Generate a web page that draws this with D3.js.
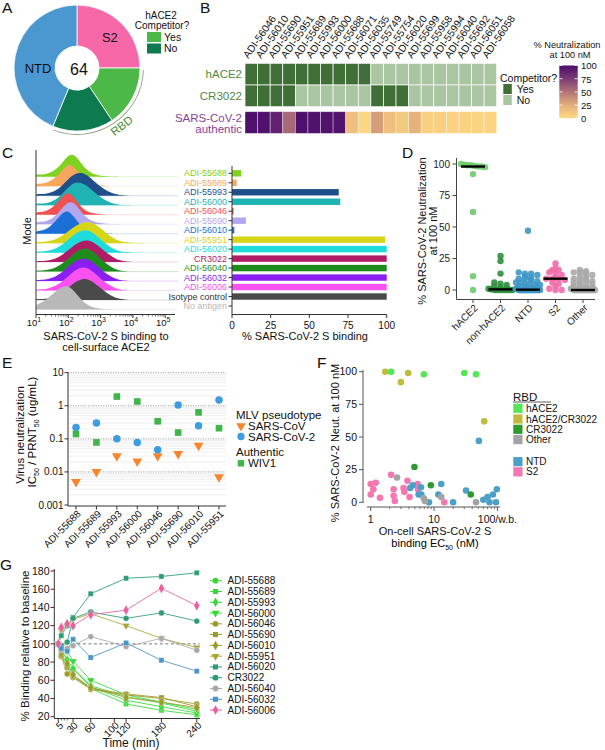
<!DOCTYPE html>
<html><head><meta charset="utf-8">
<script src="https://cdn.jsdelivr.net/npm/d3@7"></script>
<style>
body{margin:0;background:#fff}
svg{display:block}
text{font-family:"Liberation Sans",Arial,Helvetica,sans-serif}
</style></head>
<body><svg id="fig" width="605" height="750"></svg>
<script>
// ================= DATA =================
// Panel A
const pieCategories = ["S2", "RBD hACE2 competitor: Yes", "RBD hACE2 competitor: No", "NTD"];
const pieCounts = [16, 10, 10, 28];
const pieTotal = 64;

// Panel B
const heatAntibodies = ["ADI-56046","ADI-56010","ADI-55690","ADI-55951","ADI-55689","ADI-55993","ADI-56000","ADI-55688","ADI-56071","ADI-56035","ADI-55749","ADI-55754","ADI-56020","ADI-55699","ADI-55958","ADI-55994","ADI-56040","ADI-55692","ADI-56051","ADI-56058"];
const heatRows = ["hACE2", "CR3022"];
const hace2Competitor  = [1,1,1,1,1,1,1,1,1,1,0,0,0,0,0,0,0,0,0,0];
const cr3022Competitor = [1,1,1,1,0,0,0,0,0,0,1,1,1,0,0,0,0,0,0,0];
const authenticNeut = [98,97,88,55,98,97,96,96,15,2,32,15,10,22,5,5,4,4,3,3];
const neutLegendTicks = [0,25,50,75,100];

// Panel C
const cLabels = ["ADI-55688","ADI-55689","ADI-55993","ADI-56000","ADI-56046","ADI-55690","ADI-56010","ADI-55951","ADI-56020","CR3022","ADI-56040","ADI-56032","ADI-56006","Isotype control","No antigen"];
const cBinding = [6, 3, 69, 70, 1, 9, 1.5, 99, 100, 100, 100, 100, 100, 100, 0];
const histLogBins = [1.0,1.2,1.4,1.6,1.8,2.0,2.2,2.4,2.6,2.8,3.0,3.2,3.4,3.6,3.8,4.0,4.2,4.4];
const histDensity = [
  [0.12,0.08,0.14,0.28,0.55,0.92,0.95,0.55,0.25,0.10,0.04,0.02,0.01,0,0,0,0,0],
  [0.12,0.10,0.18,0.35,0.65,0.95,0.80,0.45,0.20,0.08,0.03,0.01,0,0,0,0,0,0],
  [0.08,0.06,0.10,0.20,0.40,0.70,0.92,0.98,0.85,0.60,0.38,0.20,0.08,0.03,0.01,0,0,0],
  [0.08,0.06,0.10,0.22,0.45,0.75,0.97,0.95,0.80,0.55,0.33,0.16,0.06,0.02,0.01,0,0,0],
  [0.12,0.10,0.20,0.40,0.75,0.98,0.70,0.30,0.12,0.05,0.02,0,0,0,0,0,0,0],
  [0.10,0.08,0.16,0.33,0.65,0.95,0.90,0.50,0.22,0.10,0.04,0.02,0,0,0,0,0,0],
  [0.12,0.12,0.25,0.50,0.85,1.00,0.65,0.30,0.12,0.05,0.02,0,0,0,0,0,0,0],
  [0.05,0.04,0.08,0.15,0.30,0.50,0.70,0.85,0.90,0.82,0.62,0.40,0.20,0.08,0.03,0.01,0,0],
  [0.05,0.04,0.08,0.16,0.32,0.55,0.78,0.93,0.95,0.80,0.55,0.32,0.15,0.05,0.02,0,0,0],
  [0.05,0.04,0.07,0.14,0.28,0.50,0.72,0.88,0.92,0.82,0.60,0.38,0.18,0.06,0.02,0,0,0],
  [0.05,0.04,0.08,0.16,0.32,0.55,0.78,0.95,0.98,0.80,0.55,0.30,0.13,0.04,0.01,0,0,0],
  [0.05,0.05,0.09,0.18,0.36,0.60,0.82,0.95,0.92,0.75,0.50,0.28,0.12,0.04,0.01,0,0,0],
  [0.05,0.05,0.09,0.18,0.36,0.60,0.84,0.98,0.95,0.75,0.50,0.28,0.12,0.04,0.01,0,0,0],
  [0.05,0.04,0.07,0.14,0.28,0.50,0.75,0.88,0.88,0.72,0.50,0.28,0.12,0.04,0.01,0,0,0],
  [0.20,0.30,0.50,0.75,0.95,1.00,0.75,0.40,0.18,0.07,0.02,0.01,0,0,0,0,0,0]
];
const cLogTicks = [1,2,3,4,5];
const cBarTicks = [0,25,50,75,100];

// Panel D
const dCategories = ["hACE2","non-hACE2","NTD","S2","Other"];
const dValues = [
  [100,99.5,99,99,98.5,98,98,97.5,92,62,11,0],
  [27,23,13,6,5,4,3,2,1.5,1,0.5,0.5,0,0,0,0,0,0,0,0,0],
  [47,14,13,13,12,11,10,9,9,8,7,6,6,5,5,4,4,3,3,2,2,1,1,0.5,0,0,0,0,0,0,0,0,0,0,0,0,0,0,0,0,0,0,0,0,0,0,0,0],
  [21,17,16,16,14,13,12,10,9,9,9,8,6,5,3,1,0,0],
  [16,15,14,14,13,12,11,10,9,8,8,7,6,5,5,4,3,3,2,2,1,1,0.5,0,0,0,0,0,0,0,0,0,0,0,0,0,0,0,0,0,0,0,0,0,0,0,0]
];
const dTicks = [0,25,50,75,100];

// Panel E
const eAntibodies = ["ADI-55688","ADI-55689","ADI-55993","ADI-56000","ADI-56046","ADI-55690","ADI-56010","ADI-55951"];
const eSarsCov  = [0.005, 0.01, 0.03, 0.021, 0.03, 0.035, 0.063, 0.007];
const eSarsCov2 = [0.22, 0.30, 0.10, 0.077, 0.047, 1.05, 0.25, 1.5];
const eWiv1     = [0.14, 0.078, 1.9, 1.35, 0.34, 0.155, 0.63, 0.21];
const eTicks = [0.001, 0.01, 0.1, 1, 10];
const eTickLabels = ["0.001","0.01","0.1","1","10"];

// Panel F  ([on-cell EC50 nM, % neutralization])
const fGroups = ["hACE2","hACE2/CR3022","CR3022","Other","NTD","S2"];
const fHace2 = [[2.1,100],[6.9,98],[30,99],[46,98]];
const fHace2Cr3022 = [[1.7,100],[3.0,92],[3.9,99],[62,62]];
const fCr3022 = [[4.9,27],[8.9,13],[38,6]];
const fOther = [[2.6,19],[6.9,3],[13,4],[46,0],[7.2,1]];
const fNtd = [[51,47],[4.6,13],[4.2,11],[6.2,11.5],[13,14],[5.7,6],[6.3,6],[8.3,0],[11.7,6],[20,0],[32,9],[98,10],[60,2],[75,0],[85,6],[95,0],[70,4]];
const fS2 = [[1.0,14],[1.2,15],[1.1,10],[2.1,21],[3.8,16.5],[5.5,14],[2.3,10],[3.3,11],[5.6,10],[1.0,6],[1.4,3.5],[2.3,5],[2.4,1],[4.1,4],[3.4,8],[14.5,0]];
const fYTicks = [0,25,50,75,100];
const fXTicks = [1,10,100];
const fXTickLabels = ["1","10","100/w.b."];

// Panel G
const gTimes = [5,10,20,30,60,120,180,240];
const gNames = ["ADI-55688","ADI-55689","ADI-55993","ADI-56000","ADI-56046","ADI-55690","ADI-56010","ADI-55951","ADI-56020","CR3022","ADI-56040","ADI-56032","ADI-56006"];
const gValues = [
  [100,95,82,73,54,42,35,26],
  [100,88,74,64,51,34,27,22],
  [100,93,82,72,53,38,31,24],
  [100,97,92,81,60,44,36,28],
  [100,86,67,63,50,44,40,34],
  [100,87,74,65,51,45,41,31],
  [100,90,78,66,52,41,36,30],
  [100,115,120,127,133,120,106,96],
  [100,109,120,129,155,172,174,178],
  [100,98,102,128,135,128,134,125],
  [100,93,95,98,108,97,106,93],
  [100,95,92,105,85,101,82,70],
  [100,118,122,120,132,137,161,142]
];
const gXTicks = [5,30,60,100,120,180,240];
const gYTicks = [20,40,60,80,100,120,140,160,180];

// ================= STYLES =================
const pieColors = ["#f768a8","#4cb848","#0d7a50","#4b97d0"];
const compYes = "#3f6e37", compNo = "#a9c5a1";
const cColors = ["#7fd320","#f7a65e","#1f4f8a","#1fb3b3","#f05252","#b0a8f0","#1c6fd6","#d6d51a","#1fdcdc","#b01d66","#1d8c1d","#8b1ef0","#fa52f2","#4a4a4a","#b8b8b8"];
const cTextColors = cColors.map((c,i)=> i===13 ? "#333" : c);
const dColors = ["#6ccb6c","#2f8f3f","#3e97c7","#f26aa8","#a8a8a8"];
const fColors = ["#55e655","#c0bb3c","#2e9b30","#a3a3a3","#4ba0c8","#f577b0"];
const gColors = ["#36d936","#36d936","#36d936","#36d936","#9d9a2a","#9d9a2a","#9d9a2a","#aaa33a","#2d9b74","#2d9b74","#a8a8a8","#4b94c9","#e8609e"];
const gShapes = ["circle","square","diamond","triangle","circle","square","diamond","triangle","square","circle","circle","square","diamond"];
const AX = "#333";

// ================= HELPERS =================
const svg = d3.select("#fig");
svg.append("rect").attr("width",605).attr("height",750).attr("fill","#fff");
function T(g,x,y,s,o={}){
  const t=g.append("text").attr("x",x).attr("y",y).text(s)
    .attr("font-size",o.size||10).attr("fill",o.fill||"#111")
    .attr("text-anchor",o.anchor||"start")
    .attr("dy",o.dy!=null?o.dy:"0.35em");
  if(o.rotate!=null) t.attr("transform",`rotate(${o.rotate},${x},${y})`);
  return t;
}
function L(g,x1,y1,x2,y2,c=AX,w=1,dash=null){
  const l=g.append("line").attr("x1",x1).attr("y1",y1).attr("x2",x2).attr("y2",y2).attr("stroke",c).attr("stroke-width",w);
  if(dash) l.attr("stroke-dasharray",dash);
  return l;
}
function sym(shape,size){
  const m={circle:d3.symbolCircle,square:d3.symbolSquare,diamond:d3.symbolDiamond,triangle:d3.symbolTriangle};
  return d3.symbol().type(m[shape]).size(size)();
}
function panelLetter(x,y,s){ T(svg,x,y,s,{size:15.5}); }

// ================= PANEL A =================
(function(){
  const g=svg.append("g");
  panelLetter(2,8,"A");
  const cx=77, cy=68;
  const pie=d3.pie().sort(null).value(d=>d)(pieCounts);
  const arc=d3.arc().innerRadius(22).outerRadius(63);
  const pg=g.append("g").attr("transform",`translate(${cx},${cy})`);
  pg.selectAll("path").data(pie).join("path").attr("d",arc)
    .attr("fill",(d,i)=>pieColors[i]).attr("stroke","#fff").attr("stroke-width",0.8);
  const rbdArc=d3.arc().innerRadius(66).outerRadius(66.9).startAngle(pie[1].startAngle+0.03).endAngle(pie[2].endAngle-0.02);
  pg.append("path").attr("d",rbdArc()).attr("fill","#8aa77c");
  const s2c=d3.arc().innerRadius(30).outerRadius(63).centroid(pie[0]);
  T(pg,s2c[0],s2c[1]+2,"S2",{size:13,anchor:"middle"});
  T(pg,-39,0,"NTD",{size:13,anchor:"middle"});
  T(pg,2,1,String(pieTotal),{size:16,anchor:"middle"});
  const ra=(pie[1].startAngle+pie[2].endAngle)/2 - 0.07;
  const rx=73*Math.sin(ra), ry=-73*Math.cos(ra);
  T(pg,rx,ry,"RBD",{size:11.5,anchor:"middle",fill:"#4b8a3c",rotate:(ra*180/Math.PI)-180});
  T(g,161,15,"hACE2",{size:10,anchor:"middle"});
  T(g,162,25,"Competitor?",{size:10,anchor:"middle"});
  g.append("rect").attr("x",147).attr("y",32).attr("width",14).attr("height",10).attr("fill",pieColors[1]);
  g.append("rect").attr("x",147).attr("y",43.5).attr("width",14).attr("height",10).attr("fill",pieColors[2]);
  T(g,164,37,"Yes",{size:10.5});
  T(g,164,48.5,"No",{size:10.5});
})();

// ================= PANEL B =================
(function(){
  const g=svg.append("g");
  panelLetter(200,8,"B");
  const x=d3.scaleBand().domain(heatAntibodies).range([245,496.7]);
  const y=d3.scaleBand().domain(heatRows).range([63.3,106.7]);
  const comp=[hace2Competitor,cr3022Competitor];
  heatRows.forEach((r,ri)=>{
    g.selectAll(null).data(heatAntibodies).join("rect")
      .attr("x",d=>x(d)).attr("y",y(r)).attr("width",x.bandwidth()).attr("height",y.bandwidth())
      .attr("fill",(d,i)=>comp[ri][i]?compYes:compNo).attr("stroke","#fff").attr("stroke-width",0.7);
  });
  const col=d3.scaleLinear().domain([0,25,50,75,100]).range(["#fed983","#e3ae7a","#b27477","#7b3a76","#4a0c6b"]);
  const ay=111.7, ah=21.7;
  g.selectAll(null).data(authenticNeut).join("rect")
    .attr("x",(d,i)=>x(heatAntibodies[i])).attr("y",ay).attr("width",x.bandwidth()).attr("height",ah)
    .attr("fill",d=>col(d)).attr("stroke","#fff").attr("stroke-opacity",0.5).attr("stroke-width",0.7);
  heatAntibodies.forEach(a=>{
    T(g,x(a)+x.bandwidth()/2-3,59,a,{size:10.3,rotate:-55,dy:0});
  });
  T(g,242,y("hACE2")+y.bandwidth()/2,"hACE2",{size:11.5,anchor:"end",fill:"#4f8b43"});
  T(g,242,y("CR3022")+y.bandwidth()/2,"CR3022",{size:11.5,anchor:"end",fill:"#4f8b43"});
  T(g,242,117.5,"SARS-CoV-2",{size:11.5,anchor:"end",fill:"#8b3f98"});
  T(g,242,128.5,"authentic",{size:11.5,anchor:"end",fill:"#8b3f98"});
  T(g,500,78.5,"Competitor?",{size:10.5});
  g.append("rect").attr("x",503.3).attr("y",84).attr("width",8.5).attr("height",10).attr("fill",compYes);
  g.append("rect").attr("x",503.3).attr("y",95).attr("width",8.5).attr("height",10).attr("fill",compNo);
  T(g,516.7,89,"Yes",{size:10.5});
  T(g,516.7,100,"No",{size:10.5});
  const defs=svg.append("defs");
  const lg=defs.append("linearGradient").attr("id","neutGrad").attr("x1",0).attr("y1",1).attr("x2",0).attr("y2",0);
  [0,25,50,75,100].forEach(v=>lg.append("stop").attr("offset",(v/100)).attr("stop-color",col(v)));
  const ly=d3.scaleLinear().domain([0,100]).range([118.3,65.5]);
  g.append("rect").attr("x",559.3).attr("y",ly(100)).attr("width",18.4).attr("height",ly(0)-ly(100)).attr("fill","url(#neutGrad)");
  neutLegendTicks.forEach(v=>{
    L(g,559.3,ly(v),562.5,ly(v),"#fff",0.8);
    L(g,574.5,ly(v),577.7,ly(v),"#fff",0.8);
    T(g,581,ly(v)+0.5,String(v),{size:9.5});
  });
  T(g,567,44.5,"% Neutralization",{size:9.2,anchor:"middle"});
  T(g,570,54.5,"at 100 nM",{size:9.2,anchor:"middle"});
})();

// ================= PANEL C =================
(function(){
  const g=svg.append("g");
  panelLetter(2,153,"C");
  const y=d3.scalePoint().domain(cLabels).range([173.3,306]);
  const x=d3.scaleLog().domain([10,Math.pow(10,5.3)]).range([36,36+4.3*32.3]);
  const H=24;
  cLabels.forEach((lab,i)=>{
    const base=y(lab)+3.5;
    const pts=histLogBins.map((b,j)=>[x(Math.pow(10,b)),base-histDensity[i][j]*H]);
    pts.unshift([x(10),base]);
    pts.push([x(Math.pow(10,4.4)),base]);
    L(g,36,base,178,base,cColors[i],0.7).attr("stroke-opacity",0.3);
    const area=d3.area().x(d=>d[0]).y0(base).y1(d=>d[1]).curve(d3.curveBasis);
    g.append("path").attr("d",area(pts)).attr("fill",cColors[i]);
  });
  const axY=314.5;
  L(g,36,150,36,axY);
  L(g,36,axY,175,axY);
  cLogTicks.forEach(p=>{
    const xx=x(Math.pow(10,p));
    L(g,xx,axY,xx,axY+3.5);
    const t=g.append("text").attr("x",xx-2).attr("y",326).attr("text-anchor","middle").attr("font-size",9.5).attr("fill","#111");
    t.append("tspan").text("10");
    t.append("tspan").attr("dy",-4).attr("font-size",7).text(String(p));
  });
  for(let p=1;p<5;p++) for(let m=2;m<10;m++){ const xx=x(m*Math.pow(10,p)); L(g,xx,axY,xx,axY+2,AX,0.7); }
  T(g,106,335.8,"SARS-CoV-2 S binding to",{size:11,anchor:"middle"});
  T(g,106,347,"cell-surface ACE2",{size:11,anchor:"middle"});
  T(g,27,231,"Mode",{size:11,anchor:"middle",rotate:-90});
  const xb=d3.scaleLinear().domain([0,100]).range([232,386.7]);
  g.selectAll(null).data(cBinding).join("rect")
    .attr("x",xb(0)).attr("y",(d,i)=>y(cLabels[i])-3.2).attr("width",d=>xb(d)-xb(0)).attr("height",6.4)
    .attr("fill",(d,i)=>cColors[i]);
  L(g,232,166,232,axY);
  L(g,232,axY,386.7,axY);
  cLabels.forEach((lab,i)=>{
    L(g,228.5,y(lab),232,y(lab));
    T(g,227,y(lab),lab,{size:9,anchor:"end",fill:cTextColors[i]});
  });
  cBarTicks.forEach(v=>{ L(g,xb(v),axY,xb(v),axY+3.5); T(g,xb(v),325,String(v),{size:10,anchor:"middle"}); });
  T(g,305,335.8,"% SARS-CoV-2 S binding",{size:11,anchor:"middle"});
})();

// ================= PANEL D =================
(function(){
  const g=svg.append("g");
  panelLetter(402,153,"D");
  const y=d3.scaleLinear().domain([0,100]).range([290,164]);
  const x=d3.scalePoint().domain(dCategories).range([473,583]);
  L(g,456.5,158,456.5,299.5,"#444");
  L(g,456.5,299.5,595,299.5,"#444");
  dTicks.forEach(v=>{ L(g,452.5,y(v),456.5,y(v),"#444"); T(g,450,y(v),String(v),{size:10,anchor:"end",fill:"#222"}); });
  dCategories.forEach(c=>{
    L(g,x(c),299.5,x(c),303,"#444");
    T(g,x(c)+3,306,c,{size:10,anchor:"end",rotate:-45,fill:"#222"});
  });
  T(g,422,231,"% SARS-CoV-2 Neutralization",{size:11,anchor:"middle",rotate:-90});
  T(g,433,231,"at 100 nM",{size:11,anchor:"middle",rotate:-90});
  function swarm(vals,bin,maxHalf,step){
    const groups=d3.group(vals.map((v,i)=>({v,i})),d=>Math.round(d.v/bin));
    const out=[];
    for(const [k,arr] of groups){
      const n=arr.length;
      const sp=n>1?Math.min(step,2*maxHalf/(n-1)):0;
      arr.forEach((d,j)=>out.push({v:d.v,dx:(j-(n-1)/2)*sp}));
    }
    return out;
  }
  dCategories.forEach((c,ci)=>{
    const pts=swarm(dValues[ci],2.6,12,6.2);
    g.selectAll(null).data(pts).join("circle")
      .attr("cx",d=>x(c)+d.dx).attr("cy",d=>y(d.v)).attr("r",3.2)
      .attr("fill",dColors[ci]).attr("fill-opacity",0.9);
    const med=d3.median(dValues[ci]);
    L(g,x(c)-12,y(med),x(c)+12,y(med),"#000",2.4);
  });
})();

// ================= PANEL E =================
(function(){
  const g=svg.append("g");
  panelLetter(2,363,"E");
  const y=d3.scaleLog().domain([0.001,10]).range([505,372.7]);
  const x=d3.scalePoint().domain(eAntibodies).range([76,219]);
  [0.001,0.01,0.1,1].forEach(d=>{ for(let m=2;m<10;m++){ L(g,68,y(d*m),226,y(d*m),"#e2e2e2",0.6); } });
  [0.01,0.1,1,10].forEach(d=> L(g,68,y(d),226,y(d),"#9a9a9a",0.9,"1.2,1.3"));
  L(g,68,372,68,506);
  L(g,68,506,226,506);
  eTicks.forEach((v,i)=>{ L(g,64.5,y(v),68,y(v)); T(g,63.5,y(v),eTickLabels[i],{size:10,anchor:"end"}); });
  eAntibodies.forEach(a=>{
    L(g,x(a),506,x(a),509.5);
    T(g,x(a)+3,512,a,{size:10,anchor:"end",rotate:-45});
  });
  const series=[[eSarsCov,"triangle","#f7852e",42],[eSarsCov2,"circle","#3d9de0",44],[eWiv1,"square","#3fb54a",44]];
  series.forEach(([vals,shape,c,s])=>{
    g.selectAll(null).data(vals).join("path")
      .attr("d",sym(shape,s))
      .attr("transform",(d,i)=>`translate(${x(eAntibodies[i])},${y(d)})`+(shape==="triangle"?" rotate(180)":""))
      .attr("fill",c);
  });
  T(g,20,435,"Virus neutralization",{size:11.5,anchor:"middle",rotate:-90});
  const t=g.append("text").attr("x",32).attr("y",432).attr("text-anchor","middle").attr("font-size",11.5).attr("dy","0.35em")
    .attr("transform","rotate(-90,32,432)");
  t.append("tspan").text("IC");
  t.append("tspan").attr("font-size",7).attr("dy",2.5).text("50");
  t.append("tspan").attr("dy",-2.5).text(" / PRNT");
  t.append("tspan").attr("font-size",7).attr("dy",2.5).text("50");
  t.append("tspan").attr("dy",-2.5).text(" (ug/mL)");
  T(g,236,415,"MLV pseudotype",{size:11.5});
  g.append("path").attr("d",sym("triangle",40)).attr("transform","translate(241,426) rotate(180)").attr("fill","#f7852e");
  T(g,248,426,"SARS-CoV",{size:11.5});
  g.append("path").attr("d",sym("circle",42)).attr("transform","translate(241,436.5)").attr("fill","#3d9de0");
  T(g,248,436.5,"SARS-CoV-2",{size:11.5});
  T(g,236,451.7,"Authentic",{size:11.5});
  g.append("path").attr("d",sym("square",42)).attr("transform","translate(241,463.3)").attr("fill","#3fb54a");
  T(g,248,463.3,"WIV1",{size:11.5});
})();

// ================= PANEL F =================
(function(){
  const g=svg.append("g");
  panelLetter(317,363,"F");
  const y=d3.scaleLinear().domain([0,100]).range([502.3,371.7]);
  const x=d3.scaleLog().domain([0.88,110]).range([367.2,500]);
  L(g,363,370,363,503,"#555");
  L(g,367,507,500,507,"#555");
  fYTicks.forEach(v=>{ L(g,359,y(v),363,y(v),"#555"); T(g,357,y(v),String(v),{size:10.5,anchor:"end"}); });
  fXTicks.forEach((v,i)=>{ L(g,x(v),507,x(v),511,"#555"); T(g,x(v),519.5,fXTickLabels[i],{size:10.5,anchor:"middle"}); });
  [1,10].forEach(d=>{ for(let m=2;m<10;m++){ const v=d*m; if(v<=110) L(g,x(v),507,x(v),509.2,"#555",0.8);} });
  const groups=[fHace2,fHace2Cr3022,fCr3022,fOther,fNtd,fS2];
  [5,4,3,2,1,0].forEach(gi=>{
    g.selectAll(null).data(groups[gi]).join("circle")
      .attr("cx",d=>x(d[0])).attr("cy",d=>y(d[1])).attr("r",3.3).attr("fill",fColors[gi]);
  });
  T(g,335,443,"% SARS-CoV-2 Neut. at 100 nM",{size:11,anchor:"middle",rotate:-90});
  T(g,435,531.5,"On-cell SARS-CoV-2 S",{size:11,anchor:"middle"});
  const t=g.append("text").attr("x",435).attr("y",543.3).attr("text-anchor","middle").attr("font-size",11).attr("dy","0.35em");
  t.append("tspan").text("binding EC");
  t.append("tspan").attr("font-size",7).attr("dy",2.5).text("50");
  t.append("tspan").attr("dy",-2.5).text(" (nM)");
  T(g,513,397,"RBD",{size:11.5});
  L(g,513,402,551,402,"#333",0.8);
  const ly=[408.3,419,429.3,439.6,461.7,471.8];
  fGroups.forEach((n,i)=>{
    g.append("rect").attr("x",513.3).attr("y",ly[i]-4.6).attr("width",9.2).attr("height",9.2).attr("fill",fColors[i]);
    T(g,526,ly[i],n,{size:10});
  });
})();

// ================= PANEL G =================
(function(){
  const g=svg.append("g");
  panelLetter(0,565,"G");
  const x=d3.scaleLinear().domain([0,245]).range([55.4,199.7]);
  const y=d3.scaleLinear().domain([20,180]).range([716.7,571]);
  L(g,54.3,569,54.3,718.5);
  L(g,54.3,718.5,200,718.5);
  gYTicks.forEach(v=>{ L(g,50.5,y(v),54.3,y(v)); T(g,49.5,y(v),String(v),{size:10.5,anchor:"end"}); });
  gXTicks.forEach(v=>{ L(g,x(v),718.5,x(v),722); T(g,x(v)+3,723.5,String(v),{size:10,anchor:"end",rotate:-45}); });
  [10,15,20].forEach(v=>L(g,x(v),718.5,x(v),720.5,AX,0.8));
  L(g,x(0),y(100),x(245),y(100),"#666",0.9,"3,2.5");
  const line=d3.line().x((d,i)=>x(gTimes[i])).y(d=>y(d));
  gValues.forEach((vals,si)=>{
    g.append("path").attr("d",line(vals)).attr("fill","none").attr("stroke",gColors[si]).attr("stroke-width",1).attr("stroke-opacity",0.85);
  });
  gValues.forEach((vals,si)=>{
    g.selectAll(null).data(vals).join("path")
      .attr("d",sym(gShapes[si],gShapes[si]==="diamond"?30:26))
      .attr("transform",(d,i)=>`translate(${x(gTimes[i])},${y(d)})`+(gShapes[si]==="triangle"?" rotate(180)":""))
      .attr("fill",gColors[si]).attr("stroke","#fff").attr("stroke-width",0.3);
  });
  T(g,25,646,"% Binding relative to baseline",{size:11.5,anchor:"middle",rotate:-90});
  T(g,131,742.5,"Time (min)",{size:12,anchor:"middle"});
  gNames.forEach((n,i)=>{
    const yy=580.7+i*10.78;
    L(g,210,yy,222,yy,gColors[i],1);
    g.append("path").attr("d",sym(gShapes[i],26)).attr("transform",`translate(215.5,${yy})`+(gShapes[i]==="triangle"?" rotate(180)":"")).attr("fill",gColors[i]);
    T(g,227.5,yy,n,{size:10});
  });
})();
</script></body></html>
